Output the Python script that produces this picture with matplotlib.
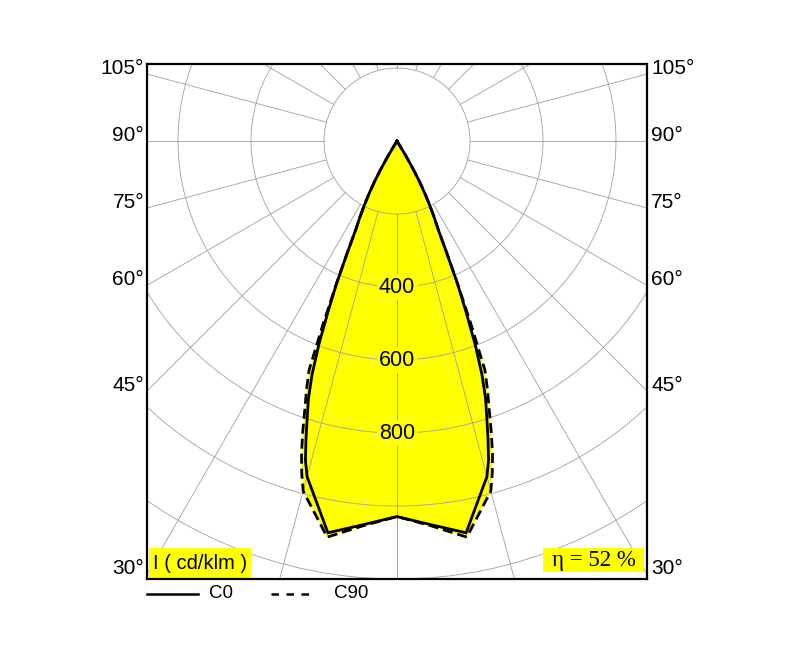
import numpy as np
import matplotlib.pyplot as plt
from matplotlib.patches import Circle, Rectangle

# luminous intensity (cd/klm) vs angle from nadir, symmetric halves
angles = [0, 5, 10, 15, 16, 17, 18, 19, 20, 21, 22, 23, 24, 25, 26, 27, 28, 29,
          30, 31, 32]
c0 = [1029, 1055, 1090, 952, 910, 853, 796, 745, 680, 598, 505, 423, 333, 266,
      232, 197, 162, 127, 85, 45, 0]
c90 = [1029, 1058, 1102, 993, 947, 895, 835, 775, 725, 672, 540, 425, 333, 266,
       232, 197, 162, 127, 85, 45, 0]

ring_values = [200, 400, 600, 800, 1000, 1200, 1400]
ring_labels = [400, 600, 800]
spoke_angles = list(range(0, 181, 15))
side_labels = [105, 90, 75, 60, 45, 30]

XMAX, YMIN, YMAX = 685, -1200, 211
YELLOW = '#ffff00'
GRID = '#a0a0a0'

plt.rcParams['font.family'] = ['Liberation Sans', 'DejaVu Sans']


def to_xy(ang, vals):
    a = np.radians(np.concatenate([-np.array(ang[::-1]), np.array(ang[1:])]))
    r = np.concatenate([np.array(vals[::-1]), np.array(vals[1:])])
    return r * np.sin(a), -r * np.cos(a)


fig = plt.figure(figsize=(7.95, 6.5), dpi=100)
ax = fig.add_axes([147 / 795, 71 / 650, 500 / 795, 515 / 650])
ax.set_xlim(-XMAX, XMAX)
ax.set_ylim(YMIN, YMAX)
ax.set_xticks([])
ax.set_yticks([])
for s in ax.spines.values():
    s.set_linewidth(1.6)
    s.set_zorder(10)

x0, y0 = to_xy(angles, c0)
x90, y90 = to_xy(angles, c90)
ax.fill(x90, y90, color=YELLOW, lw=0, zorder=1)
ax.fill(x0, y0, color=YELLOW, lw=0, zorder=1)

# grid
for rv in ring_values:
    ax.add_patch(Circle((0, 0), rv, fill=False, ec=GRID, lw=0.6, zorder=2))
for a in spoke_angles:
    for sgn in (-1, 1):
        t = np.radians(a) * sgn
        ax.plot([200 * np.sin(t), 3000 * np.sin(t)],
                [-200 * np.cos(t), -3000 * np.cos(t)],
                color=GRID, lw=0.6, zorder=2)

ax.plot(x90, y90, color='black', lw=2.0, ls=(0, (3.6, 1.8)), zorder=3)
ax.plot(x0, y0, color='black', lw=2.0, zorder=4, solid_joinstyle='miter')

for v in ring_labels:
    ax.text(0, -v, str(v), ha='center', va='center', fontsize=15.5, zorder=5,
            bbox=dict(facecolor=YELLOW, edgecolor='none', pad=1.5))

# angle labels on both sides of the frame
for a in side_labels:
    t = np.radians(a)
    y = -XMAX * np.cos(t) / np.sin(t)
    ax.annotate(f'{a}°', xy=(-XMAX, y), xytext=(-2, 0), textcoords='offset points',
                ha='right', va='baseline', fontsize=15, annotation_clip=False)
    ax.annotate(f'{a}°', xy=(XMAX, y), xytext=(3, 0), textcoords='offset points',
                ha='left', va='baseline', fontsize=15, annotation_clip=False)

# yellow info boxes in the bottom corners
ax.add_patch(Rectangle((0.004, 0.002), 0.204, 0.058, transform=ax.transAxes,
                       facecolor=YELLOW, edgecolor='none', zorder=6))
ax.text(0.106, 0.031, 'I ( cd/klm )', transform=ax.transAxes, ha='center', va='center',
        fontsize=14.5, zorder=7)
ax.add_patch(Rectangle((0.792, 0.0136), 0.202, 0.0464, transform=ax.transAxes,
                       facecolor=YELLOW, edgecolor='none', zorder=6))
ax.text(0.893, 0.036, 'η = 52 %', transform=ax.transAxes, ha='center', va='center',
        fontsize=16.5, family=['Liberation Serif', 'DejaVu Serif'], zorder=7)

# legend under the frame
ly = -0.029
ax.plot([0, 0.102], [ly, ly], color='black', lw=1.8, transform=ax.transAxes, clip_on=False)
ax.text(0.124, ly, 'C0', transform=ax.transAxes, ha='left', va='center', fontsize=13.5)
ax.plot([0.248, 0.334], [ly, ly], color='black', lw=1.8, ls=(0, (3, 3)),
        transform=ax.transAxes, clip_on=False)
ax.text(0.374, ly, 'C90', transform=ax.transAxes, ha='left', va='center', fontsize=13.5)

fig.savefig('out.png', dpi=100)
